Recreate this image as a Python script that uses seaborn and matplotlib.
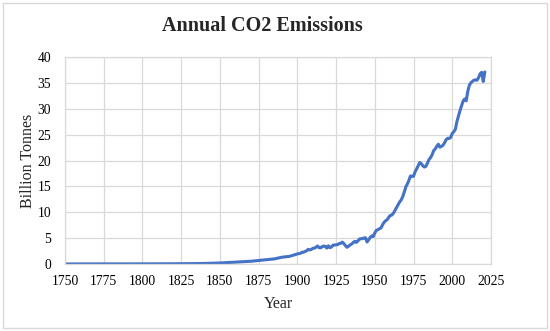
import numpy as np
import pandas as pd
import matplotlib
matplotlib.use("Agg")
import matplotlib.pyplot as plt
import seaborn as sns
from matplotlib.patches import Rectangle

# Sparse early years, then annual values (billion tonnes)
early_years = [1750, 1760, 1770, 1780, 1790, 1800, 1810, 1820, 1830, 1840,
               1850, 1855, 1860, 1865, 1870, 1875, 1880, 1885, 1890, 1895]
early_values = [0.009, 0.010, 0.012, 0.013, 0.017, 0.028, 0.035, 0.044, 0.063, 0.106,
                0.197, 0.27, 0.36, 0.45, 0.53, 0.68, 0.85, 0.98, 1.31, 1.48]

annual_years = list(range(1900, 2022))
annual_values = [
    1.95, 2.01, 2.07, 2.27, 2.28, 2.43, 2.55, 2.83, 2.72, 2.82,
    3.03, 3.06, 3.23, 3.49, 3.15, 3.12, 3.35, 3.48, 3.41, 3.07,
    3.53, 3.16, 3.28, 3.64, 3.66, 3.72, 3.73, 3.96, 3.98, 4.24,
    3.94, 3.56, 3.23, 3.42, 3.69, 3.84, 4.14, 4.37, 4.17, 4.41,
    4.82, 4.89, 4.89, 5.04, 5.06, 4.25, 4.66, 5.14, 5.41, 5.31,
    6.00, 6.51, 6.63, 6.82, 6.96, 7.58, 8.06, 8.36, 8.58, 9.03,
    9.39, 9.45, 9.81, 10.36, 10.91, 11.42, 11.98, 12.37, 13.01, 13.89,
    14.89, 15.46, 16.15, 17.01, 16.92, 16.96, 17.83, 18.37, 19.01, 19.61,
    19.39, 18.98, 18.73, 18.87, 19.52, 20.19, 20.56, 21.12, 21.92, 22.23,
    22.75, 23.15, 22.58, 22.73, 22.94, 23.42, 24.02, 24.29, 24.26, 24.47,
    25.23, 25.56, 26.04, 27.52, 28.62, 29.66, 30.59, 31.48, 31.89, 31.52,
    33.36, 34.51, 35.02, 35.29, 35.54, 35.55, 35.52, 36.03, 36.77, 37.04,
    35.26, 37.12,
]

x_ticks = [1750, 1775, 1800, 1825, 1850, 1875, 1900, 1925, 1950, 1975, 2000, 2025]
y_ticks = [0, 5, 10, 15, 20, 25, 30, 35, 40]

df = pd.DataFrame({
    "Year": early_years + annual_years,
    "Emissions": early_values + annual_values,
})

sns.set_style("whitegrid")
plt.rcParams["font.family"] = ["Liberation Serif", "DejaVu Serif"]

fig = plt.figure(figsize=(5.5, 3.31), dpi=100)
ax = fig.add_axes([65 / 550, 1 - 264 / 331, (491 - 65) / 550, (264 - 57) / 331])

sns.lineplot(data=df, x="Year", y="Emissions", ax=ax, color="#4472C4", linewidth=2.2)

ax.set_xlim(1750, 2025)
ax.set_ylim(0, 40)
ax.set_xticks(x_ticks)
ax.set_yticks(y_ticks)
ax.tick_params(axis="both", length=0, labelsize=9.8, colors="#000000")
ax.tick_params(axis="x", pad=8)
ax.tick_params(axis="y", pad=10)
ax.grid(True, color="#D9D9D9", linewidth=0.9)
for s in ax.spines.values():
    s.set_color("#D9D9D9")
    s.set_linewidth(0.9)

ax.set_xlabel("Year", fontsize=11.5, labelpad=6)
ax.set_ylabel("Billion Tonnes", fontsize=11.5, labelpad=1)
fig.text(262 / 550, 1 - 26 / 331, "Annual CO2 Emissions", fontsize=14.5,
         fontweight="bold", ha="center", va="center")

fig.patches.append(Rectangle((3 / 550, 3 / 331), 544 / 550, 325 / 331,
                             transform=fig.transFigure, fill=False,
                             edgecolor="#D9D9D9", linewidth=1))

fig.savefig("out.png", dpi=100)
